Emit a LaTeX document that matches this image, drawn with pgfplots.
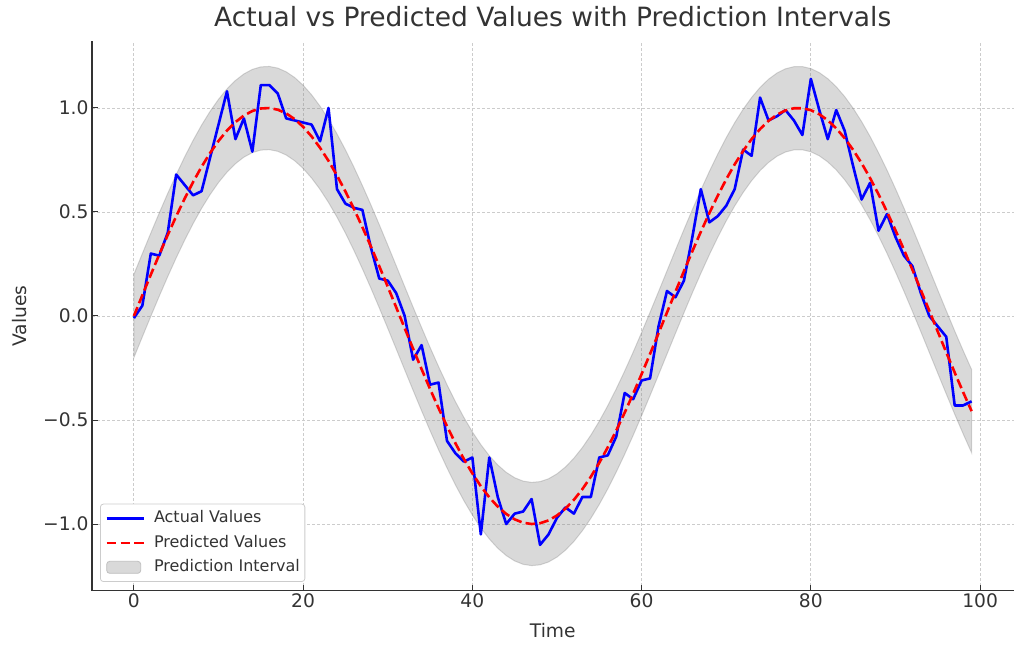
\documentclass[border=0pt]{standalone}
\usepackage{pgfplots}
\pgfplotsset{compat=1.18}
\usepackage{pgfplotstable}
\usepgfplotslibrary{fillbetween}
\usepackage{fontspec}
\setmainfont{DejaVu Sans}
\definecolor{txt}{HTML}{333333}
\definecolor{gridc}{HTML}{CCCCCC}
\definecolor{bandc}{HTML}{808080}

\pgfplotstableread{
t a p lo hi
0 -0.01 0.0000 -0.2000 0.2000
1 0.05 0.0998 -0.1002 0.2998
2 0.30 0.1987 -0.0013 0.3987
3 0.29 0.2955 0.0955 0.4955
4 0.40 0.3894 0.1894 0.5894
5 0.68 0.4794 0.2794 0.6794
6 0.63 0.5646 0.3646 0.7646
7 0.58 0.6442 0.4442 0.8442
8 0.60 0.7174 0.5174 0.9174
9 0.76 0.7833 0.5833 0.9833
10 0.92 0.8415 0.6415 1.0415
11 1.08 0.8912 0.6912 1.0912
12 0.85 0.9320 0.7320 1.1320
13 0.95 0.9636 0.7636 1.1636
14 0.79 0.9854 0.7854 1.1854
15 1.11 0.9975 0.7975 1.1975
16 1.11 0.9996 0.7996 1.1996
17 1.07 0.9917 0.7917 1.1917
18 0.95 0.9738 0.7738 1.1738
19 0.94 0.9463 0.7463 1.1463
20 0.93 0.9093 0.7093 1.1093
21 0.92 0.8632 0.6632 1.0632
22 0.84 0.8085 0.6085 1.0085
23 1.00 0.7457 0.5457 0.9457
24 0.61 0.6755 0.4755 0.8755
25 0.54 0.5985 0.3985 0.7985
26 0.52 0.5155 0.3155 0.7155
27 0.51 0.4274 0.2274 0.6274
28 0.33 0.3350 0.1350 0.5350
29 0.18 0.2392 0.0392 0.4392
30 0.17 0.1411 -0.0589 0.3411
31 0.11 0.0416 -0.1584 0.2416
32 0.00 -0.0584 -0.2584 0.1416
33 -0.21 -0.1577 -0.3577 0.0423
34 -0.14 -0.2555 -0.4555 -0.0555
35 -0.33 -0.3508 -0.5508 -0.1508
36 -0.32 -0.4425 -0.6425 -0.2425
37 -0.60 -0.5298 -0.7298 -0.3298
38 -0.66 -0.6119 -0.8119 -0.4119
39 -0.70 -0.6878 -0.8878 -0.4878
40 -0.68 -0.7568 -0.9568 -0.5568
41 -1.05 -0.8183 -1.0183 -0.6183
42 -0.68 -0.8716 -1.0716 -0.6716
43 -0.87 -0.9162 -1.1162 -0.7162
44 -1.00 -0.9516 -1.1516 -0.7516
45 -0.95 -0.9775 -1.1775 -0.7775
46 -0.94 -0.9937 -1.1937 -0.7937
47 -0.88 -0.9999 -1.1999 -0.7999
48 -1.10 -0.9962 -1.1962 -0.7962
49 -1.05 -0.9825 -1.1825 -0.7825
50 -0.97 -0.9589 -1.1589 -0.7589
51 -0.92 -0.9258 -1.1258 -0.7258
52 -0.95 -0.8835 -1.0835 -0.6835
53 -0.87 -0.8323 -1.0323 -0.6323
54 -0.87 -0.7728 -0.9728 -0.5728
55 -0.68 -0.7055 -0.9055 -0.5055
56 -0.67 -0.6313 -0.8313 -0.4313
57 -0.58 -0.5507 -0.7507 -0.3507
58 -0.37 -0.4646 -0.6646 -0.2646
59 -0.40 -0.3739 -0.5739 -0.1739
60 -0.31 -0.2794 -0.4794 -0.0794
61 -0.30 -0.1822 -0.3822 0.0178
62 -0.05 -0.0831 -0.2831 0.1169
63 0.12 0.0168 -0.1832 0.2168
64 0.09 0.1165 -0.0835 0.3165
65 0.17 0.2151 0.0151 0.4151
66 0.38 0.3115 0.1115 0.5115
67 0.61 0.4048 0.2048 0.6048
68 0.45 0.4941 0.2941 0.6941
69 0.48 0.5784 0.3784 0.7784
70 0.53 0.6570 0.4570 0.8570
71 0.61 0.7290 0.5290 0.9290
72 0.80 0.7937 0.5937 0.9937
73 0.77 0.8504 0.6504 1.0504
74 1.05 0.8987 0.6987 1.0987
75 0.94 0.9380 0.7380 1.1380
76 0.96 0.9679 0.7679 1.1679
77 0.99 0.9882 0.7882 1.1882
78 0.94 0.9985 0.7985 1.1985
79 0.87 0.9989 0.7989 1.1989
80 1.14 0.9894 0.7894 1.1894
81 0.99 0.9699 0.7699 1.1699
82 0.85 0.9407 0.7407 1.1407
83 0.99 0.9022 0.7022 1.1022
84 0.89 0.8546 0.6546 1.0546
85 0.72 0.7985 0.5985 0.9985
86 0.56 0.7344 0.5344 0.9344
87 0.64 0.6630 0.4630 0.8630
88 0.41 0.5849 0.3849 0.7849
89 0.49 0.5010 0.3010 0.7010
90 0.38 0.4121 0.2121 0.6121
91 0.29 0.3190 0.1190 0.5190
92 0.24 0.2229 0.0229 0.4229
93 0.11 0.1245 -0.0755 0.3245
94 0.00 0.0248 -0.1752 0.2248
95 -0.05 -0.0752 -0.2752 0.1248
96 -0.10 -0.1743 -0.3743 0.0257
97 -0.43 -0.2718 -0.4718 -0.0718
98 -0.43 -0.3665 -0.5665 -0.1665
99 -0.41 -0.4575 -0.6575 -0.2575
}\data

\begin{document}
\begin{tikzpicture}
\begin{axis}[
  width=921.5bp, height=549.2bp, scale only axis,
  xmin=-4.95, xmax=103.95, ymin=-1.32, ymax=1.32,
  axis x line*=bottom, axis y line*=left,
  axis line style={txt, line width=1.3bp, -},
  tick style={txt, line width=1bp},
  tick align=inside, major tick length=6bp,
  xtick={0,20,40,60,80,100},
  ytick={-1,-0.5,0,0.5,1},
  yticklabels={−1.0,−0.5,0.0,0.5,1.0},
  /pgf/number format/assume math mode=true,
  ticklabel style={font=\fontsize{18.67bp}{22bp}\selectfont, text=txt},
  grid=major,
  major grid style={gridc, line width=0.8bp, dash pattern=on 3bp off 2bp},
  title={Actual vs Predicted Values with Prediction Intervals},
  title style={at={(axis description cs:0.5,1.0171)}, anchor=base, inner sep=0pt,
    font=\fontsize{26.5bp}{30bp}\selectfont, text=txt},
  xlabel={Time},
  xlabel style={at={(axis description cs:0.5,-0.0863)}, anchor=base, inner sep=0pt,
    font=\fontsize{18.67bp}{22bp}\selectfont, text=txt},
  ylabel={Values},
  ylabel style={at={(axis description cs:-0.0781,0.5)}, anchor=center, inner sep=0pt,
    font=\fontsize{18.67bp}{22bp}\selectfont, text=txt},
  legend cell align=left,
  legend style={at={(axis description cs:0.0087,0.0157)}, anchor=south west,
    draw=gridc, rounded corners=3bp, fill=white, line width=0.8bp,
    font=\fontsize{16bp}{19bp}\selectfont, text=txt,
    inner xsep=5bp, inner ysep=6.5bp, row sep=9bp,
    nodes={inner sep=0pt, text height=12bp, text depth=3.5bp},
    /tikz/every odd column/.style={column sep=9bp}},
]
\addplot[name path=hi, draw=none, forget plot] table[x=t, y=hi] {\data};
\addplot[name path=lo, draw=none, forget plot] table[x=t, y=lo] {\data};
\addplot[fill=bandc, fill opacity=0.3, draw=bandc, draw opacity=0.3, line width=1bp, forget plot] fill between[of=hi and lo];
\addplot[blue, line width=2.6bp, line join=round,
  legend image code/.code={\draw[blue, line width=2.6bp] (0bp,0bp) -- (37bp,0bp);}] table[x=t, y=a] {\data};
\addlegendentry{Actual Values}
\addplot[red, line width=2.6bp, dash pattern=on 9.6bp off 4.2bp,
  legend image code/.code={\draw[red, line width=2.6bp, dash pattern=on 9.6bp off 4.2bp] (0bp,0bp) -- (37bp,0bp);}] table[x=t, y=p] {\data};
\addlegendentry{Predicted Values}
\addlegendimage{legend image code/.code={\draw[fill=gray!30, draw=gray!50, line width=0.8bp] (0bp,-6bp) rectangle (34bp,6bp);}}
\addlegendentry{Prediction Interval}
\end{axis}
\pgfresetboundingbox
\useasboundingbox (-92bp,-63.4bp) rectangle (932bp,590.6bp);
\end{tikzpicture}
\end{document}
